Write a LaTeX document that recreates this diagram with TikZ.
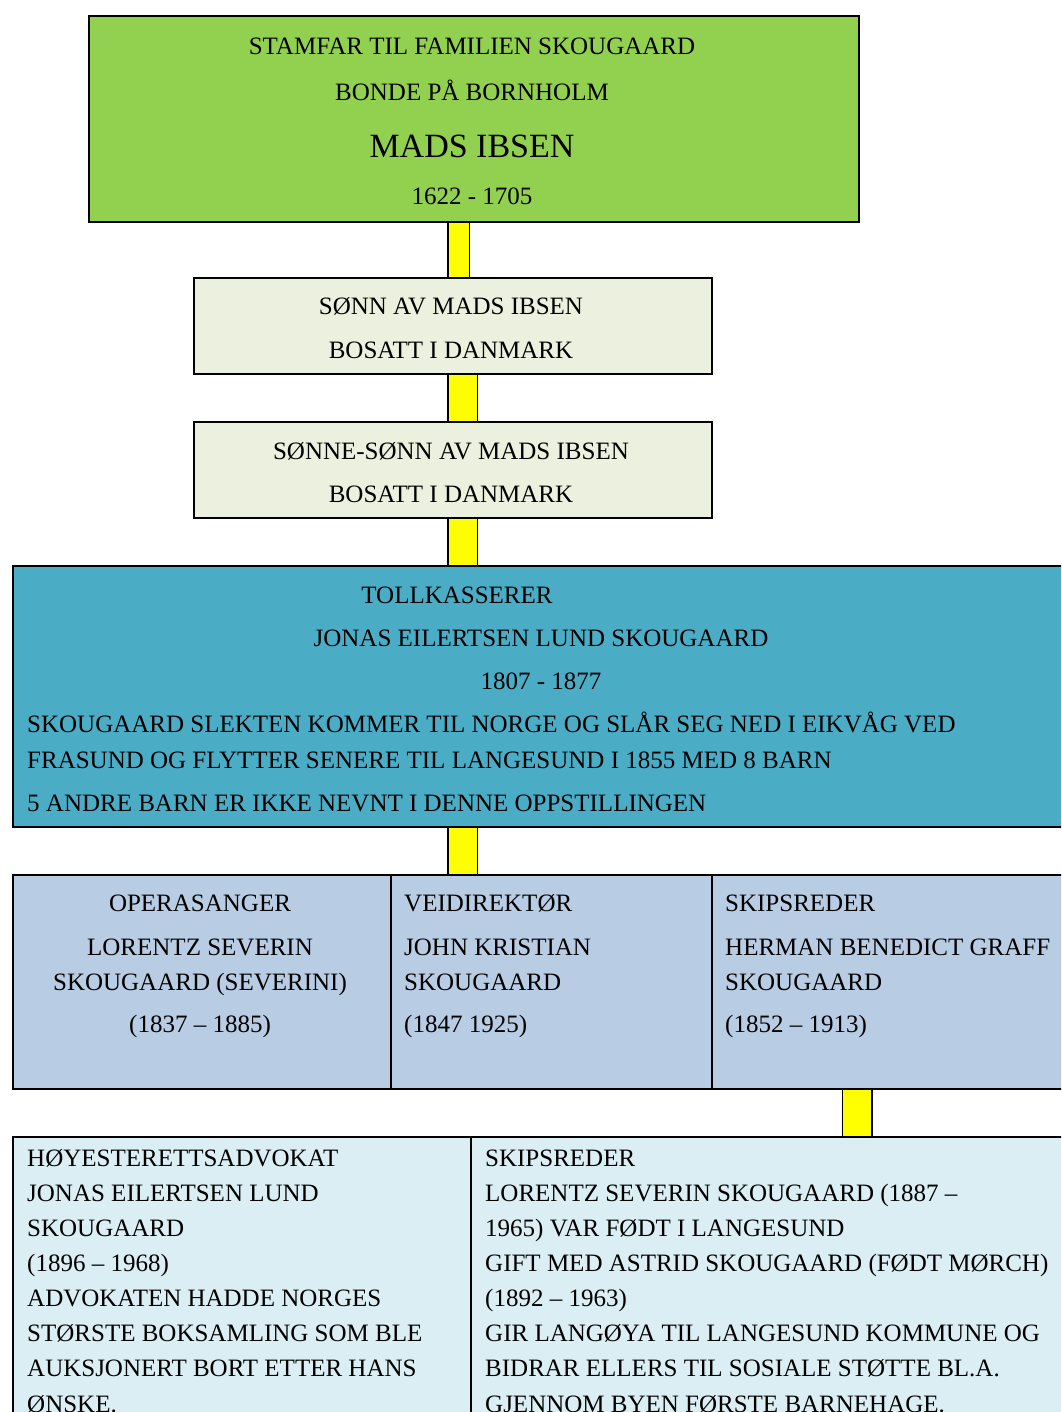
\documentclass[tikz,border=0pt]{standalone}
\usepackage{fontspec}
\setmainfont{Liberation Serif}
\usetikzlibrary{positioning, calc}

\definecolor{stamgreen}{HTML}{92D050}
\definecolor{palegreen}{HTML}{EBF1DE}
\definecolor{tollblue}{HTML}{4BACC6}
\definecolor{greyblue}{HTML}{B8CCE4}
\definecolor{paleblue}{HTML}{DAEEF3}
\definecolor{baryellow}{HTML}{FFFF00}

\begin{document}
\begin{tikzpicture}[x=1pt, y=-1pt, font=\fontsize{25}{30}\selectfont,
	box/.style={draw=black, line width=2pt, anchor=north west, inner sep=0pt},
	txt/.style={anchor=base, inner sep=0pt},
	ltxt/.style={anchor=base west, inner sep=0pt},
	bar/.style={draw=black, line width=1.5pt, double=baryellow, double distance=#1},
	bar/.default=28pt]
		\useasboundingbox (0,0) rectangle (1061,1412);
		\clip (0,0) rectangle (1061,1412);

		% boxes
		\node[box, fill=stamgreen, minimum width=770pt, minimum height=206pt] (mads) at (88,15) {};
		\node[box, fill=palegreen, minimum width=518pt, minimum height=96pt] (sonn) at (193,277) {};
		\node[box, fill=palegreen, minimum width=518pt, minimum height=96pt] (sonnesonn) at (193,421) {};
		\node[box, fill=tollblue, minimum width=1070pt, minimum height=261pt] (jonas) at (12,565) {};
		\node[box, fill=greyblue, minimum width=378pt, minimum height=214pt] (lorentz) at (12,874) {};
		\node[box, fill=greyblue, minimum width=321pt, minimum height=214pt] (john) at (390,874) {};
		\node[box, fill=greyblue, minimum width=370pt, minimum height=214pt] (herman) at (711,874) {};
		\node[box, fill=paleblue, minimum width=458pt, minimum height=300pt] (advokat) at (12,1136) {};
		\node[box, fill=paleblue, minimum width=610pt, minimum height=300pt] (skipsreder) at (470,1136) {};

		% yellow bars
		\draw[bar=20pt] (mads.south -| 458.5,0) -- (sonn.north -| 458.5,0);
		\draw[bar] (sonn.south -| 462.5,0) -- (sonnesonn.north -| 462.5,0);
		\draw[bar] (sonnesonn.south -| 462.5,0) -- (jonas.north -| 462.5,0);
		\draw[bar] (jonas.south -| 462.5,0) -- (john.north -| 462.5,0);
		\draw[bar] (herman.south -| 857,0) -- (skipsreder.north -| 857,0);

		% stamfar
		\node[txt] (madsA) at (472,55) {STAMFAR TIL FAMILIEN SKOUGAARD};
		\node[txt] (madsB) at (472,101) {BONDE PÅ BORNHOLM};
		\node[txt, font=\fontsize{34}{40}\selectfont] (madsC) at (472,158) {MADS IBSEN};
		\node[txt] (madsD) at (472,205) {1622 - 1705};

		\node[txt] (sonnA) at (451,315) {SØNN AV MADS IBSEN};
		\node[txt] (sonnB) at (451,358) {BOSATT I DANMARK};
		\node[txt] (sonnesonnA) at (451,459) {SØNNE-SØNN AV MADS IBSEN};
		\node[txt] (sonnesonnB) at (451,502) {BOSATT I DANMARK};

		% tollkasserer
		\node[txt] (jonasA) at (457,603) {TOLLKASSERER};
		\node[txt] (jonasB) at (541,646) {JONAS EILERTSEN LUND SKOUGAARD};
		\node[txt] (jonasC) at (541,689) {1807 - 1877};
		\node[ltxt] (jonasD) at (27,732) {SKOUGAARD SLEKTEN KOMMER TIL NORGE OG SLÅR SEG NED I EIKVÅG VED};
		\node[ltxt] (jonasE) at (27,768) {FRASUND OG FLYTTER SENERE TIL LANGESUND I 1855 MED 8 BARN};
		\node[ltxt] (jonasF) at (27,811) {5 ANDRE BARN ER IKKE NEVNT I DENNE OPPSTILLINGEN};

		% barn
		\node[txt] (lorentzA) at (200,911) {OPERASANGER};
		\node[txt] (lorentzB) at (200,955) {LORENTZ SEVERIN};
		\node[txt] (lorentzC) at (200,990) {SKOUGAARD (SEVERINI)};
		\node[txt] (lorentzD) at (200,1032) {(1837 – 1885)};
		\node[ltxt] (johnA) at (404,911) {VEIDIREKTØR};
		\node[ltxt] (johnB) at (404,955) {JOHN KRISTIAN};
		\node[ltxt] (johnC) at (404,990) {SKOUGAARD};
		\node[ltxt] (johnD) at (404,1032) {(1847 1925)};
		\node[ltxt] (hermanA) at (725,911) {SKIPSREDER};
		\node[ltxt] (hermanB) at (725,955) {HERMAN BENEDICT GRAFF};
		\node[ltxt] (hermanC) at (725,990) {SKOUGAARD};
		\node[ltxt] (hermanD) at (725,1032) {(1852 – 1913)};

		% barnebarn
		\node[anchor=base west, inner sep=0pt, align=left, font=\fontsize{25}{35.1}\selectfont] (advokatT) at (27,1412)
			{HØYESTERETTSADVOKAT\\ JONAS EILERTSEN LUND\\ SKOUGAARD\\ (1896 – 1968)\\ ADVOKATEN HADDE NORGES\\
			 STØRSTE BOKSAMLING SOM BLE\\ AUKSJONERT BORT ETTER HANS\\ ØNSKE.};
		\node[anchor=base west, inner sep=0pt, align=left, font=\fontsize{25}{35.1}\selectfont] (skipsrederT) at (485,1412)
			{SKIPSREDER\\ LORENTZ SEVERIN SKOUGAARD (1887 –\\ 1965) VAR FØDT I LANGESUND\\
			 GIFT MED ASTRID SKOUGAARD (FØDT MØRCH)\\ (1892 – 1963)\\ GIR LANGØYA TIL LANGESUND KOMMUNE OG\\
			 BIDRAR ELLERS TIL SOSIALE STØTTE BL.A.\\ GJENNOM BYEN FØRSTE BARNEHAGE.};
\end{tikzpicture}
\end{document}
